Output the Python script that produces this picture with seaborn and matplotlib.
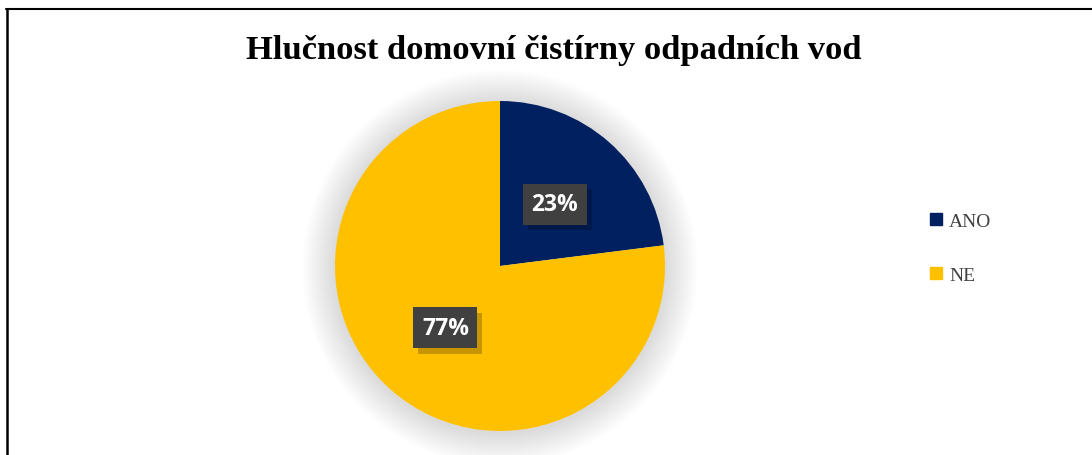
import matplotlib
matplotlib.use('Agg')
import matplotlib.pyplot as plt
import seaborn as sns
from matplotlib.lines import Line2D
from matplotlib.patches import Circle, Rectangle

labels = ['ANO', 'NE']
values = [23, 77]
colors = ['#002060', '#FFC000']
title = 'Hlučnost domovní čistírny odpadních vod'

sns.set_theme(style='white')
plt.rcParams['font.family'] = ['Liberation Serif', 'DejaVu Serif']

fig = plt.figure(figsize=(10.92, 4.56), dpi=100)
fig.patch.set_facecolor('white')

# pie axes: centre ~ (500, 267) px, radius ~165 px
W, H = 1092, 456
R = 165
side = 2.4 * R
ax = fig.add_axes([(500 - side / 2) / W, (H - 267 - side / 2) / H, side / W, side / H])

wedges, texts, autotexts = ax.pie(values, colors=colors, startangle=90, counterclock=False,
                                  autopct='%1.0f%%', pctdistance=0.5, radius=1.0,
                                  wedgeprops=dict(linewidth=0))
ax.set_xlim(-1.2, 1.2)
ax.set_ylim(-1.2, 1.2)
ax.set_aspect('equal')
ax.axis('off')

# soft glow around pie
for i in range(18):
    r = 1.0 + 0.011 * (18 - i)
    ax.add_patch(Circle((0, -0.01), r, facecolor='black', alpha=0.008, lw=0, zorder=0))
for w in wedges:
    w.set_zorder(2)

bw, bh = 64 / R, 41 / R
for t in autotexts:
    x, y = t.get_position()
    ax.add_patch(Rectangle((x - bw / 2 + 0.03, y - bh / 2 - 0.035), bw, bh, facecolor='black',
                           alpha=0.22, lw=0, zorder=3))
    ax.add_patch(Rectangle((x - bw / 2, y - bh / 2), bw, bh, facecolor='#404040', lw=0, zorder=3.5))
    t.set_fontsize(16.5)
    t.set_fontweight('bold')
    t.set_family('Open Sans')
    t.set_color('white')
    t.set_zorder(4)

handles = [Line2D([0], [0], marker='s', linestyle='none', markersize=8,
                  markerfacecolor=c, markeredgecolor=c) for c in colors]
fig.legend(handles, labels, loc='center left', bbox_to_anchor=(912 / W, 1 - 249 / H),
           frameon=False, fontsize=14, labelcolor='#404040', handlelength=0.7,
           handletextpad=0.3, labelspacing=1.9)

fig.text(554 / W, 1 - 50 / H, title, ha='center', va='center', fontsize=24.8, fontweight='bold',
         family='Liberation Serif', color='black')

# frame lines (top and left only visible)
fig.add_artist(Line2D([6 / W, 1], [1 - 10 / H, 1 - 10 / H], color='black', lw=1.5,
                      transform=fig.transFigure))
fig.add_artist(Line2D([6.5 / W, 6.5 / W], [0, 1 - 10 / H], color='black', lw=1.8,
                      transform=fig.transFigure))

fig.savefig('out.png', dpi=100)
